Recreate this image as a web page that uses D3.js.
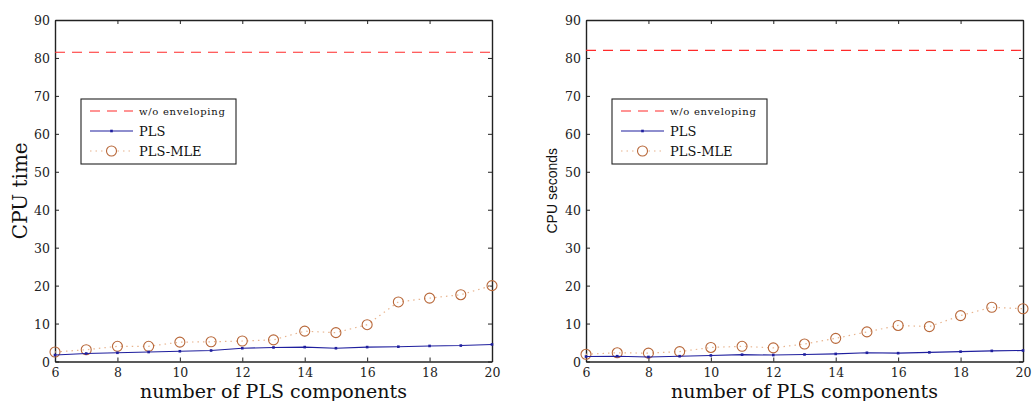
<!DOCTYPE html>
<html>
<head>
<meta charset="utf-8">
<script src="https://cdn.jsdelivr.net/npm/d3@7"></script>
<style>
  html, body { margin: 0; padding: 0; background: #fff; }
  svg { display: block; }
</style>
</head>
<body>
<svg id="chart" width="1032" height="401"></svg>
<script>
// Number of PLS components on the x axis
const components = [6, 7, 8, 9, 10, 11, 12, 13, 14, 15, 16, 17, 18, 19, 20];

// Left panel: CPU time
const leftBaseline = 81.5;   // w/o enveloping
const leftPLS = [1.7, 2.1, 2.3, 2.5, 2.7, 2.9, 3.5, 3.7, 3.8, 3.5, 3.8, 3.9, 4.1, 4.2, 4.5];
const leftPLSMLE = [2.5, 3.1, 4.0, 4.0, 5.1, 5.2, 5.4, 5.7, 8.0, 7.6, 9.7, 15.7, 16.7, 17.6, 20.0];

// Right panel: CPU seconds
const rightBaseline = 82.0;  // w/o enveloping
const rightPLS = [1.3, 1.4, 1.2, 1.4, 1.6, 1.8, 1.7, 1.85, 2.0, 2.3, 2.2, 2.4, 2.6, 2.8, 2.9];
const rightPLSMLE = [1.9, 2.3, 2.2, 2.6, 3.7, 4.0, 3.6, 4.6, 6.1, 7.8, 9.5, 9.2, 12.1, 14.3, 13.9];

// Axis ticks and labels
const xTicks = [6, 8, 10, 12, 14, 16, 18, 20];
const yTicks = [0, 10, 20, 30, 40, 50, 60, 70, 80, 90];
const xLabel = "number of PLS components";
const legendLabels = ["w/o enveloping", "PLS", "PLS-MLE"];

const SERIF = "'DejaVu Serif', 'Liberation Serif', serif";
const SANS = "'Liberation Sans', Arial, sans-serif";
const RED = "#ff2a2a", BLUE = "#1f1f9e", BROWN = "#b8683a", TAN = "#e8b48e", AXIS = "#222";

const svg = d3.select("#chart");

function panel(opts) {
  const { left, right, top, bottom } = opts;
  const x = d3.scaleLinear().domain([6, 20]).range([left, right]);
  const y = d3.scaleLinear().domain([0, 90]).range([bottom, top]);
  const g = svg.append("g");

  // box-style axes with inward ticks on all four sides
  const tickLen = 4;
  const xb = g.append("g").attr("transform", `translate(0,${bottom})`)
    .call(d3.axisBottom(x).tickValues(xTicks).tickSizeInner(-tickLen).tickSizeOuter(0).tickPadding(7).tickFormat(d3.format("d")));
  const xt = g.append("g").attr("transform", `translate(0,${top})`)
    .call(d3.axisTop(x).tickValues(xTicks).tickSizeInner(-tickLen).tickSizeOuter(0).tickFormat(""));
  const yl = g.append("g").attr("transform", `translate(${left},0)`)
    .call(d3.axisLeft(y).tickValues(yTicks).tickSizeInner(-tickLen).tickSizeOuter(0).tickPadding(5).tickFormat(d3.format("d")));
  const yr = g.append("g").attr("transform", `translate(${right},0)`)
    .call(d3.axisRight(y).tickValues(yTicks).tickSizeInner(-tickLen).tickSizeOuter(0).tickFormat(""));
  [xb, xt, yl, yr].forEach(a => {
    a.selectAll("path.domain").attr("stroke", AXIS).attr("stroke-width", 1.4);
    a.selectAll(".tick line").attr("stroke", AXIS).attr("stroke-width", 1);
    a.selectAll("text").attr("font-family", SERIF).attr("font-size", 12.5).attr("fill", "#222");
  });
  yl.selectAll("text").attr("dy", "0.36em");

  // horizontal reference without enveloping
  g.append("line")
    .attr("x1", x(6)).attr("x2", x(20))
    .attr("y1", y(opts.baseline)).attr("y2", y(opts.baseline))
    .attr("stroke", RED).attr("stroke-width", 1.2).attr("stroke-dasharray", "10,7");

  const line = d3.line().x((d, i) => x(components[i])).y(d => y(d));

  // PLS-MLE: dotted line with open circles
  g.append("path").datum(opts.mle).attr("d", line)
    .attr("fill", "none").attr("stroke", TAN).attr("stroke-width", 1.2).attr("stroke-dasharray", "1.5,4");
  g.selectAll("circle.mle").data(opts.mle).join("circle").attr("class", "mle")
    .attr("cx", (d, i) => x(components[i])).attr("cy", d => y(d)).attr("r", 5)
    .attr("fill", "none").attr("stroke", BROWN).attr("stroke-width", 1.1);

  // PLS: solid line with point markers
  g.append("path").datum(opts.pls).attr("d", line)
    .attr("fill", "none").attr("stroke", BLUE).attr("stroke-width", 1.1);
  g.selectAll("rect.pls").data(opts.pls).join("rect").attr("class", "pls")
    .attr("x", (d, i) => x(components[i]) - 1.3).attr("y", d => y(d) - 1.3)
    .attr("width", 2.6).attr("height", 2.6).attr("fill", BLUE);

  // axis titles
  g.append("text").attr("x", (left + right) / 2).attr("y", 397.5)
    .attr("text-anchor", "middle").attr("font-family", SERIF).attr("font-size", 19).attr("fill", "#111")
    .text(xLabel);
  g.append("text")
    .attr("transform", `translate(${opts.yLabelX},${(top + bottom) / 2}) rotate(-90)`)
    .attr("text-anchor", "middle").attr("font-family", opts.yLabelFont).attr("font-size", opts.yLabelSize).attr("fill", "#111")
    .text(opts.yLabel);

  // legend
  const lx = opts.legendX, ly = 99, lw = 155, lh = 65;
  const lg = g.append("g");
  lg.append("rect").attr("x", lx).attr("y", ly).attr("width", lw).attr("height", lh)
    .attr("fill", "#fff").attr("stroke", AXIS).attr("stroke-width", 1.1);
  const rows = [ly + 12, ly + 32, ly + 52];
  const sx1 = lx + 9, sx2 = lx + 52, tx = lx + 58;
  lg.append("line").attr("x1", sx1).attr("x2", sx2).attr("y1", rows[0]).attr("y2", rows[0])
    .attr("stroke", RED).attr("stroke-width", 1.2).attr("stroke-dasharray", "10,7");
  lg.append("line").attr("x1", sx1).attr("x2", sx2).attr("y1", rows[1]).attr("y2", rows[1])
    .attr("stroke", BLUE).attr("stroke-width", 1.1);
  lg.append("rect").attr("x", (sx1 + sx2) / 2 - 1.3).attr("y", rows[1] - 1.3).attr("width", 2.6).attr("height", 2.6).attr("fill", BLUE);
  lg.append("line").attr("x1", sx1).attr("x2", sx2).attr("y1", rows[2]).attr("y2", rows[2])
    .attr("stroke", TAN).attr("stroke-width", 1.2).attr("stroke-dasharray", "1.5,4");
  lg.append("circle").attr("cx", (sx1 + sx2) / 2).attr("cy", rows[2]).attr("r", 5)
    .attr("fill", "#fff").attr("stroke", BROWN).attr("stroke-width", 1.1);
  const sizes = [10, 13, 13];
  const spacing = [0.7, 0, 0];
  rows.forEach((ry, i) => {
    lg.append("text").attr("x", tx).attr("y", ry).attr("dy", "0.35em")
      .attr("font-family", SERIF).attr("font-size", sizes[i]).attr("letter-spacing", spacing[i]).attr("fill", "#111")
      .text(legendLabels[i]);
  });
}

panel({ left: 55, right: 492, top: 20, bottom: 361.5, baseline: leftBaseline, pls: leftPLS, mle: leftPLSMLE,
        yLabel: "CPU time", yLabelX: 27, yLabelFont: SERIF, yLabelSize: 20, legendX: 81 });
panel({ left: 586, right: 1023, top: 20, bottom: 361.5, baseline: rightBaseline, pls: rightPLS, mle: rightPLSMLE,
        yLabel: "CPU seconds", yLabelX: 557, yLabelFont: SANS, yLabelSize: 14, legendX: 612 });
</script>
</body>
</html>
